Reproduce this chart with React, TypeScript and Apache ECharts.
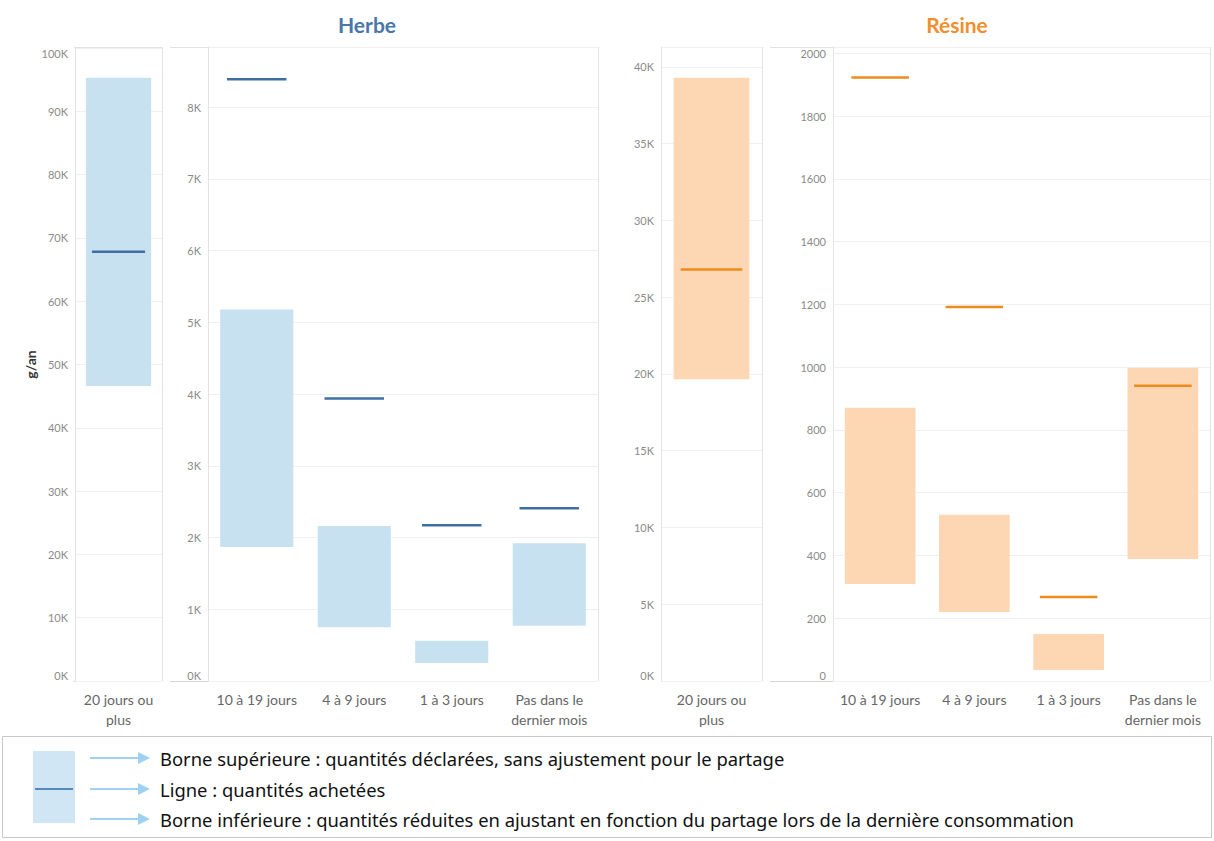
import React, { useEffect, useRef } from "react";
import * as echarts from "echarts";

// ---- Data ----
const herbeWideCats = ["20 jours ou\nplus"];
const herbeWideLow = [46600];
const herbeWideHigh = [95300];
const herbeWideLine = [67800];

const herbeCats = ["10 à 19 jours", "4 à 9 jours", "1 à 3 jours", "Pas dans le\ndernier mois"];
const herbeLow = [1870, 750, 250, 770];
const herbeHigh = [5180, 2160, 560, 1920];
const herbeLine = [8390, 3940, 2170, 2410];

const resineWideCats = ["20 jours ou\nplus"];
const resineWideLow = [19650];
const resineWideHigh = [39300];
const resineWideLine = [26800];

const resineCats = ["10 à 19 jours", "4 à 9 jours", "1 à 3 jours", "Pas dans le\ndernier mois"];
const resineLow = [309, 220, 35, 389];
const resineHigh = [871, 530, 150, 998];
const resineLine = [1923, 1192, 268, 941];

const legendTexts = [
  "Borne supérieure : quantités déclarées, sans ajustement pour le partage",
  "Ligne : quantités achetées",
  "Borne inférieure : quantités réduites en ajustant en fonction du partage lors de la dernière consommation",
];

const BLUE_BAR = "#c7e1f1";
const BLUE_LINE = "#3d6fa3";
const ORANGE_BAR = "#fdd6b3";
const ORANGE_LINE = "#f08a1c";
const FRAME = "#e3e3e3";
const AXIS = "#d4d4d4";
const FONT = "Lato, 'Open Sans', sans-serif";

const kFmt = (v: number) => (v % 1000 === 0 ? v / 1000 + "K" : "");

function rows(low: number[], high: number[], line: number[]) {
  return low.map((l, i) => [i, l, high[i], line[i]]);
}

function makeRender(barColor: string, lineColor: string) {
  return (params: any, api: any) => {
    const x = api.value(0);
    const pLo = api.coord([x, api.value(1)]);
    const pHi = api.coord([x, api.value(2)]);
    const pLn = api.coord([x, api.value(3)]);
    const bw = api.size([1, 0])[0];
    const rw = bw * 0.75;
    const lw = bw * 0.61;
    return {
      type: "group",
      children: [
        {
          type: "rect",
          shape: { x: pLo[0] - rw / 2, y: pHi[1], width: rw, height: pLo[1] - pHi[1] },
          style: { fill: barColor },
        },
        {
          type: "line",
          shape: { x1: pLn[0] - lw / 2, y1: pLn[1], x2: pLn[0] + lw / 2, y2: pLn[1] },
          style: { stroke: lineColor, lineWidth: 2.5 },
        },
      ],
    };
  };
}

export default function App() {
  const ref = useRef<HTMLDivElement>(null);
  useEffect(() => {
    if (!ref.current) return;
    const chart = echarts.init(ref.current, null, { renderer: "svg" });

    const top = 47;
    const bottom = 681;
    const grids = [
      { left: 75, width: 87, top: 48, height: bottom - 48 },
      { left: 208, width: 390, top, height: bottom - top },
      { left: 661, width: 101, top, height: bottom - top },
      { left: 833, width: 377, top, height: bottom - top },
    ];

    const xAxisBase = (gi: number, cats: string[]) => ({
      type: "category",
      gridIndex: gi,
      data: cats,
      axisLine: { show: false },
      axisTick: { show: false },
      axisLabel: {
        color: "#666",
        fontSize: 14,
        lineHeight: 20,
        fontFamily: FONT,
        margin: 8,
        interval: 0,
      },
    });

    const yAxisBase = (gi: number, max: number, interval: number, fmt: any, alignMax: boolean) => ({
      type: "value",
      gridIndex: gi,
      min: 0,
      max,
      interval,
      axisLine: { show: true, lineStyle: { color: FRAME } },
      axisTick: { show: false },
      splitLine: { show: true, lineStyle: { color: "#f0f0f0", width: 1 } },
      axisLabel: {
        color: "#8a8a8a",
        fontSize: 11,
        fontFamily: FONT,
        margin: 7,
        formatter: fmt,
        showMaxLabel: alignMax,
        verticalAlignMinLabel: "bottom",
        verticalAlignMaxLabel: alignMax ? "top" : undefined,
      },
    });

    const legendY = [758, 789, 819];
    const arrowColor = "#9fd1f2";
    const legendGraphics: any[] = [
      {
        type: "rect",
        shape: { x: 2.5, y: 736.5, width: 1209, height: 101 },
        style: { fill: "#fff", stroke: "#c8c8c8", lineWidth: 1 },
      },
      {
        type: "rect",
        shape: { x: 33, y: 751, width: 42, height: 72 },
        style: { fill: "#d0e6f5" },
      },
      {
        type: "line",
        shape: { x1: 35, y1: 789, x2: 73, y2: 789 },
        style: { stroke: "#2e6da4", lineWidth: 1.5 },
      },
    ];
    legendY.forEach((y, i) => {
      legendGraphics.push({
        type: "line",
        shape: { x1: 90, y1: y, x2: 140, y2: y },
        style: { stroke: arrowColor, lineWidth: 2 },
      });
      legendGraphics.push({
        type: "polygon",
        shape: { points: [[138, y - 6], [150, y], [138, y + 6]] },
        style: { fill: arrowColor },
      });
      legendGraphics.push({
        type: "text",
        x: 160,
        y,
        style: {
          text: legendTexts[i],
          fill: "#111",
          fontSize: 18.4,
          fontFamily: "'Noto Sans', sans-serif",
          verticalAlign: "middle",
          align: "left",
        },
      });
    });

    const ln = (x1: number, y1: number, x2: number, y2: number, color = FRAME) => ({
      type: "line",
      shape: { x1, y1, x2, y2 },
      style: { stroke: color, lineWidth: 1 },
      z: 0,
    });

    const frames = [
      ln(74, 47.5, 162, 47.5),
      ln(162.5, 47, 162.5, 681),
      ln(74, 681.5, 162, 681.5, AXIS),
      ln(170, 47.5, 598, 47.5),
      ln(598.5, 47, 598.5, 681),
      ln(170, 681.5, 598, 681.5, AXIS),
      ln(661, 47.5, 762, 47.5),
      ln(762.5, 47, 762.5, 681),
      ln(661, 681.5, 762, 681.5, AXIS),
      ln(770, 47.5, 1210, 47.5),
      ln(1210.5, 47, 1210.5, 681),
      ln(770, 681.5, 1210, 681.5, AXIS),
    ];

    chart.setOption({
      animation: false,
      backgroundColor: "#fff",
      title: [
        {
          text: "Herbe",
          left: 362,
          top: 9,
          textAlign: "center",
          textStyle: { color: "#4a77aa", fontSize: 21, fontWeight: "bold", fontFamily: FONT },
        },
        {
          text: "Résine",
          left: 952,
          top: 9,
          textAlign: "center",
          textStyle: { color: "#f28e2b", fontSize: 21, fontWeight: "bold", fontFamily: FONT },
        },
      ],
      grid: grids,
      xAxis: [
        xAxisBase(0, herbeWideCats),
        xAxisBase(1, herbeCats),
        xAxisBase(2, resineWideCats),
        xAxisBase(3, resineCats),
      ],
      yAxis: [
        {
          ...yAxisBase(0, 100000, 10000, kFmt, true),
          name: "g/an",
          nameLocation: "middle",
          nameGap: 37,
          nameRotate: 90,
          nameTextStyle: { color: "#333", fontSize: 14, fontWeight: "bold", fontFamily: FONT },
        },
        yAxisBase(1, 8840, 1000, kFmt, false),
        yAxisBase(2, 41300, 5000, kFmt, false),
        yAxisBase(3, 2020, 200, (v: number) => (v % 200 === 0 ? String(v) : ""), false),
      ],
      series: [
        {
          type: "custom",
          xAxisIndex: 0,
          yAxisIndex: 0,
          renderItem: makeRender(BLUE_BAR, BLUE_LINE),
          encode: { x: 0, y: [1, 2, 3] },
          data: rows(herbeWideLow, herbeWideHigh, herbeWideLine),
        },
        {
          type: "custom",
          xAxisIndex: 1,
          yAxisIndex: 1,
          renderItem: makeRender(BLUE_BAR, BLUE_LINE),
          encode: { x: 0, y: [1, 2, 3] },
          data: rows(herbeLow, herbeHigh, herbeLine),
        },
        {
          type: "custom",
          xAxisIndex: 2,
          yAxisIndex: 2,
          renderItem: makeRender(ORANGE_BAR, ORANGE_LINE),
          encode: { x: 0, y: [1, 2, 3] },
          data: rows(resineWideLow, resineWideHigh, resineWideLine),
        },
        {
          type: "custom",
          xAxisIndex: 3,
          yAxisIndex: 3,
          renderItem: makeRender(ORANGE_BAR, ORANGE_LINE),
          encode: { x: 0, y: [1, 2, 3] },
          data: rows(resineLow, resineHigh, resineLine),
        },
      ],
      graphic: [...frames, ...legendGraphics],
    });
    return () => chart.dispose();
  }, []);
  return (
    <div
      ref={ref}
      style={{ position: "fixed", left: 0, top: 0, width: 1214, height: 841 }}
    />
  );
}
